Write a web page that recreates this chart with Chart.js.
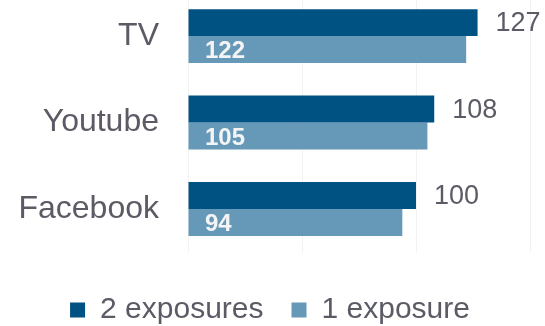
<!DOCTYPE html>
<html>
<head>
<meta charset="utf-8">
<script src="https://cdn.jsdelivr.net/npm/chart.js@4"></script>
<style>
  body { margin: 0; background: #fff; }
  #wrap { width: 545px; height: 326px; }
</style>
</head>
<body>
<div id="wrap"><canvas id="exposureChart"></canvas></div>
<script>
// chart data
const categories = ['TV', 'Youtube', 'Facebook'];
const twoExposures = [127, 108, 100];
const oneExposure = [122, 105, 94];
const seriesNames = ['2 exposures', '1 exposure'];

const FONT = '"Liberation Sans", Arial, sans-serif';
const TEXT_GRAY = '#5b5b66';

// draws the value labels next to / inside the bars
const valueLabels = {
    id: 'valueLabels',
    afterLayout(chart) {
        // nudge the legend a little to the right, like the original
        if (chart.legend) {
            chart.legend.left += 5;
            chart.legend.right += 5;
        }
    },
    afterDatasetsDraw(chart) {
        const ctx = chart.ctx;
        ctx.save();
        ctx.textBaseline = 'middle';
        ctx.textAlign = 'left';

        // 2 exposures: gray number after the bar end
        chart.getDatasetMeta(0).data.forEach((bar, i) => {
            ctx.font = '27px ' + FONT;
            ctx.fillStyle = TEXT_GRAY;
            ctx.fillText(twoExposures[i], bar.x + 18, bar.y + 1);
        });

        // 1 exposure: bold white number at the start of the bar
        chart.getDatasetMeta(1).data.forEach((bar, i) => {
            ctx.font = 'bold 24px ' + FONT;
            ctx.fillStyle = '#f4f4f4';
            ctx.fillText(oneExposure[i], chart.chartArea.left + 17, bar.y + 2);
        });
        ctx.restore();
    }
};

const ctx = document.getElementById('exposureChart');
new Chart(ctx, {
    type: 'bar',
    data: {
        datasets: [
            {
                label: seriesNames[0],
                data: twoExposures.map((v, i) => ({ x: v, y: i })),
                backgroundColor: '#005282',
                categoryPercentage: 0.624,
                barPercentage: 1
            },
            {
                label: seriesNames[1],
                data: oneExposure.map((v, i) => ({ x: v, y: i })),
                backgroundColor: '#6698b8',
                categoryPercentage: 0.624,
                barPercentage: 1
            }
        ]
    },
    options: {
        indexAxis: 'y',
        responsive: true,
        maintainAspectRatio: false,
        animation: false,
        layout: { padding: { top: 0, right: 15, bottom: -9, left: 0 } },
        plugins: {
            tooltip: { enabled: false },
            legend: {
                position: 'bottom',
                labels: {
                    boxWidth: 15,
                    boxHeight: 15,
                    padding: 28,
                    color: TEXT_GRAY,
                    font: { family: FONT, size: 30 }
                }
            }
        },
        scales: {
            x: {
                min: 0,
                max: 150,
                ticks: { display: false, stepSize: 50 },
                border: { display: false },
                grid: { color: '#f2f2f2', drawTicks: false },
                afterFit: axis => { axis.height = 15; }
            },
            y: {
                type: 'linear',
                offset: false,
                reverse: true,
                min: -0.416,
                max: 2.497,
                afterBuildTicks: axis => {
                    axis.ticks = categories.map((c, i) => ({ value: i }));
                },
                afterFit: axis => { axis.width = 188; },
                ticks: {
                    padding: 0,
                    color: TEXT_GRAY,
                    font: { family: FONT, size: 32, lineHeight: 0.01 },
                    callback: v => categories[v]
                },
                border: { display: false },
                grid: { display: false, drawTicks: true, tickLength: 29 }
            }
        }
    },
    plugins: [valueLabels]
});
</script>
</body>
</html>
